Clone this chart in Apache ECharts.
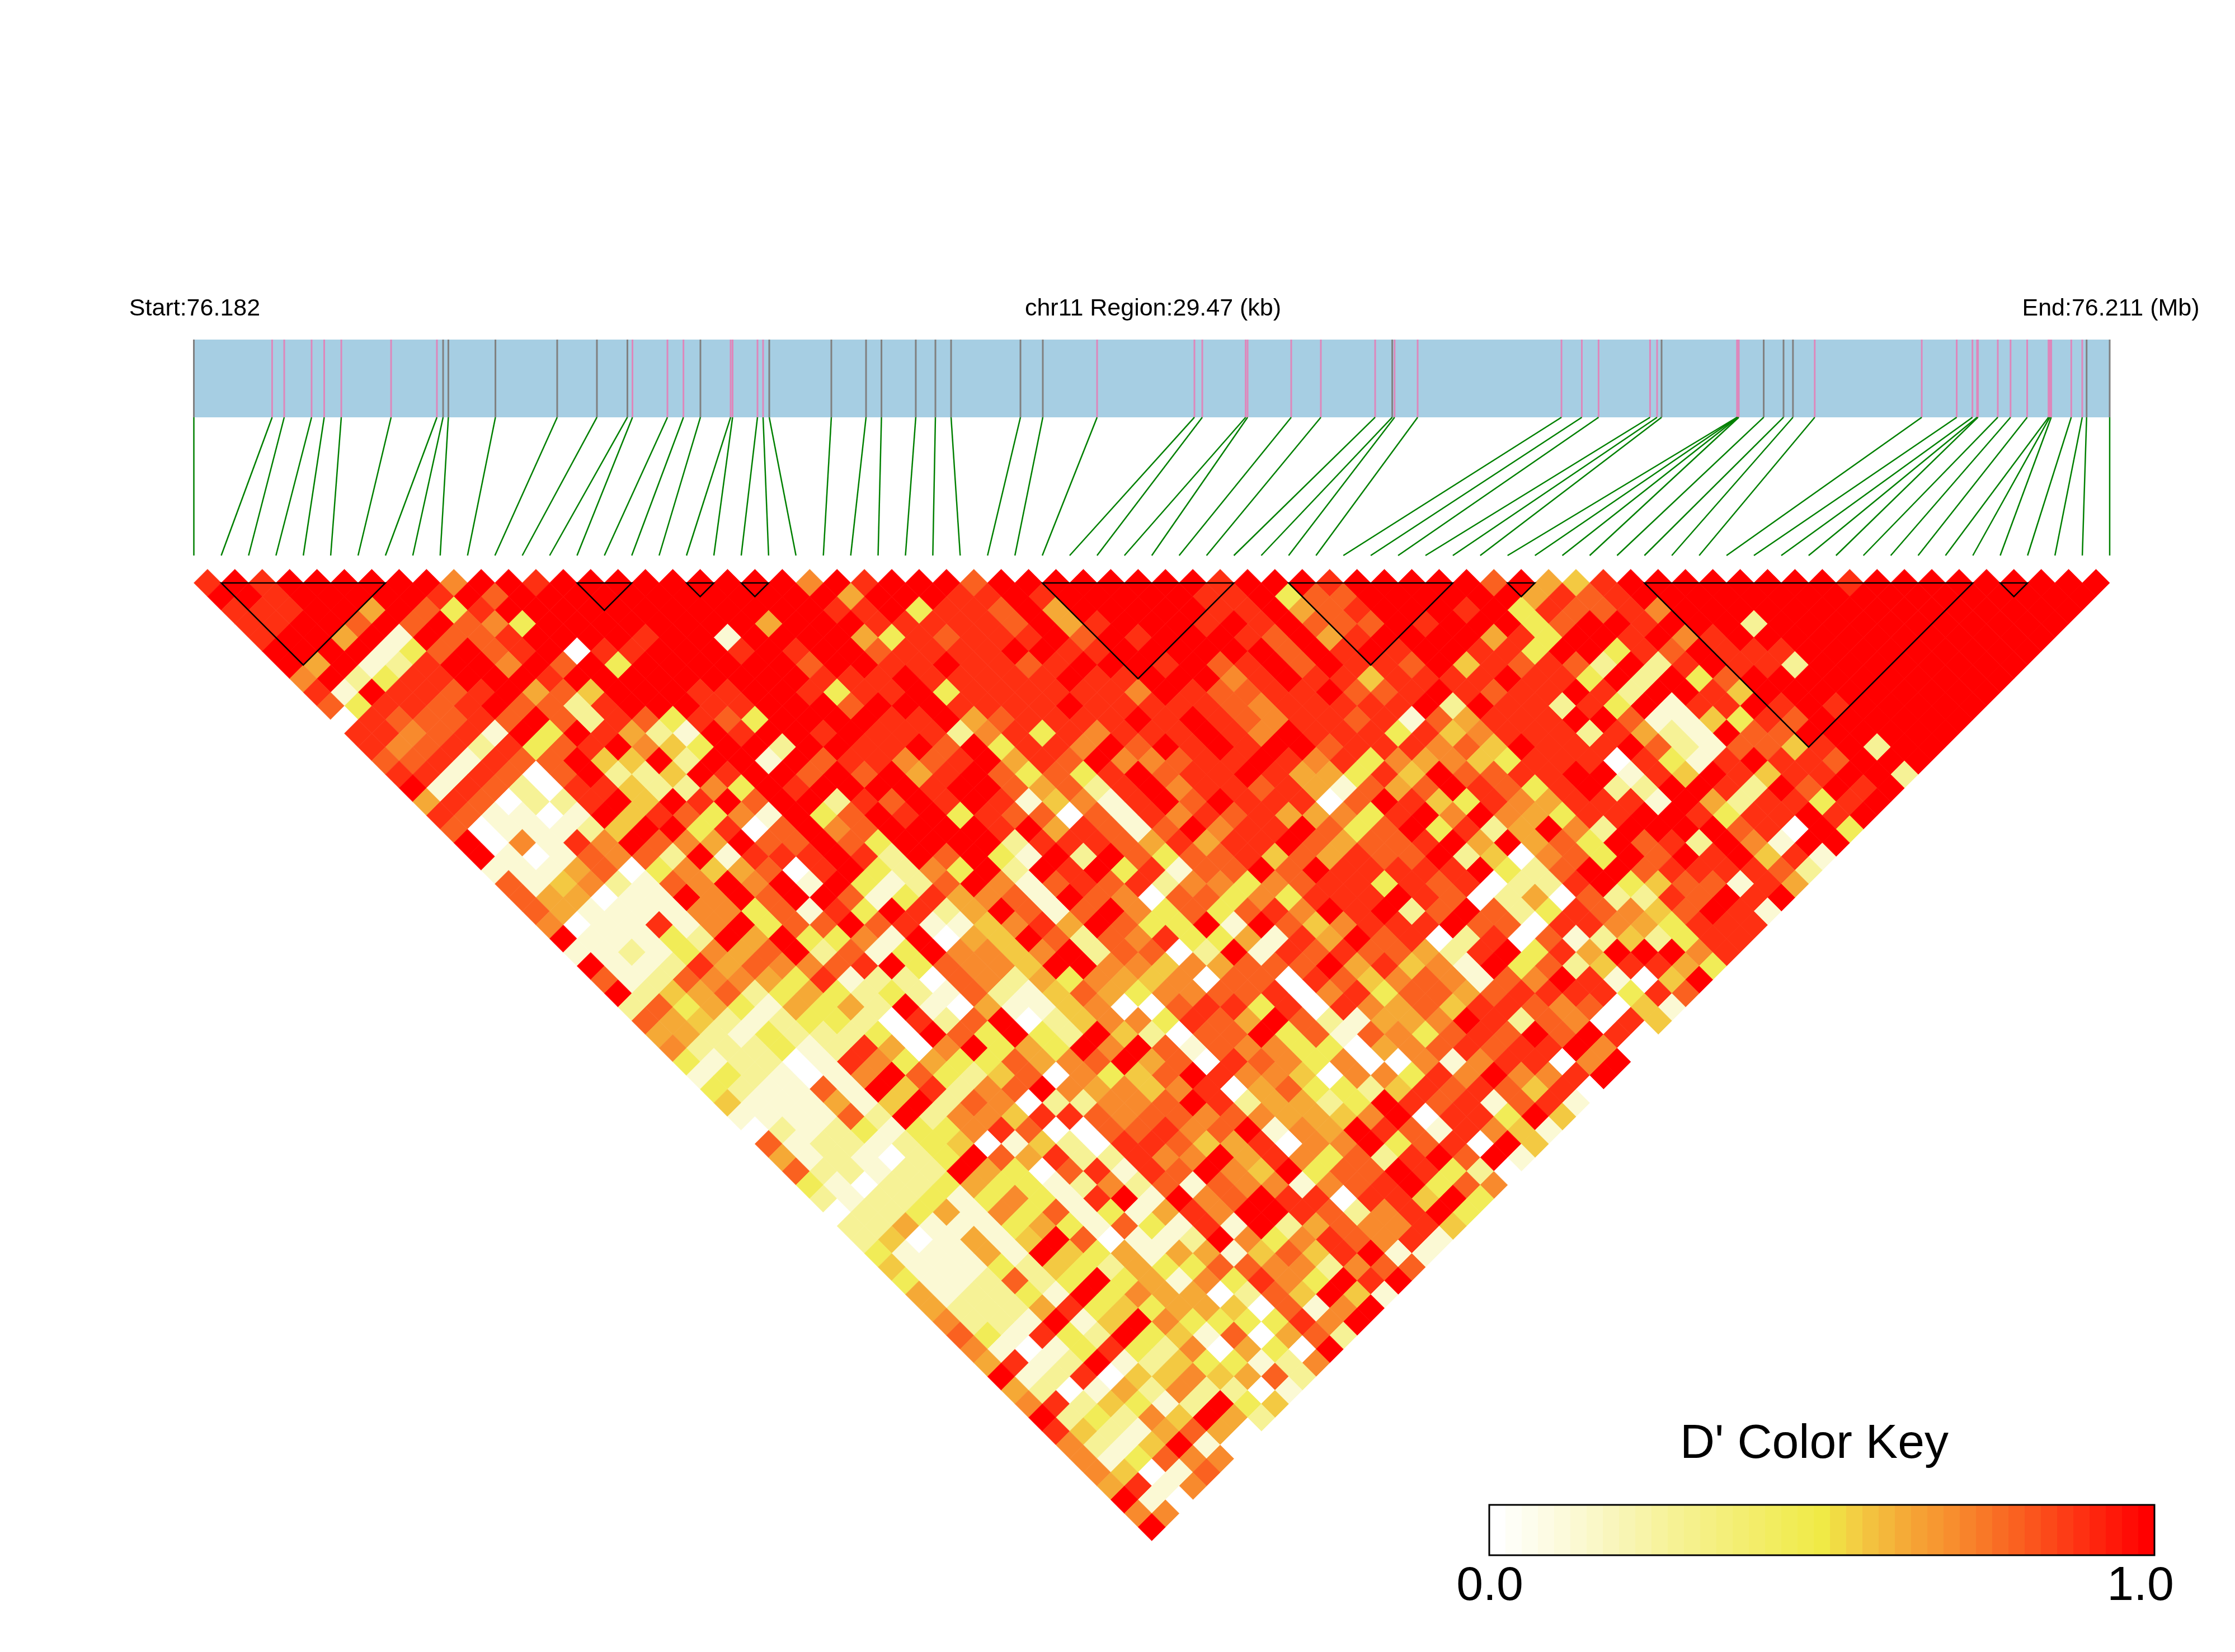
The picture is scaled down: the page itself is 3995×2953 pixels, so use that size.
<!DOCTYPE html>
<html><head><meta charset="utf-8"><title>LD heatmap</title>
<style>html,body{margin:0;padding:0;background:#fff}#c{width:3995px;height:2953px}</style>
<script src="https://cdn.jsdelivr.net/npm/echarts@6/dist/echarts.min.js"></script></head>
<body><div id="c"></div>
<script>
// SNP positions along the 29.47 kb region (kb from start)
const regionKb = 29.47;
const snpKb = [0,1.204,1.39,1.811,2.005,2.268,3.034,3.739,3.834,3.915,4.639,5.589,6.2,6.669,6.747,7.285,7.531,7.792,8.257,8.287,8.67,8.756,8.851,9.806,10.34,10.577,11.105,11.407,11.648,12.715,13.059,13.894,15.391,15.512,16.179,16.209,16.88,17.336,18.171,18.434,18.47,18.825,21.037,21.35,21.608,22.4,22.508,22.577,23.737,23.744,23.753,23.765,24.148,24.453,24.598,24.933,26.579,27.117,27.359,27.43,27.444,27.749,27.945,28.201,28.529,28.549,28.571,28.879,29.048,29.115,29.47];
// g = grey tick, p = pink tick, one per SNP
const snpKinds = "g"+"ppppppp"+"gggggg"+"ppp"+"g"+"pppp"+"ggggggggg"+"pppppppp"+"g"+"ppppppp"+"g"+"pppp"+"ggg"+"pppppppppppppp"+"gg";
// D' classes used when reading the picture, index = digit in ldRows
const dLevels = [0.0,0.12,0.27,0.45,0.56,0.63,0.71,0.80,0.90,1.0];
// colour key stops
const keyStopValues = [0,0.12,0.27,0.5,0.56,0.63,0.71,0.80,0.90,1];
const keyStopColors = ["#ffffff","#fbf9d4","#f6f296","#f0ea46","#f3c942","#f5a936","#f88a2d","#fa6120","#fe3012","#ff0000"];
// LD blocks as [first SNP, last SNP]
const ldBlocks = [[1,7],[14,16],[18,19],[20,21],[31,38],[40,46],[48,49],[53,65],[66,67]];
// One string per SNP distance (1..70); each digit is a D' class for pair (i, i+distance)
const ldRows = [
"898999999699899999 999969899979999999 989998999997954899 9999998999999999",
"99899999897999999 999999599988989999 988937799999958789 9999999999999999",
"88899597389999999 999998893887959999 988957899989387786 999999999999999",
"8899797976399999 999599988888795899 989897779899937998 999299999999999",
"8995919778999989 919999538788897989 998795899995839989 68999999999999",
"999913797890889 998989978888998899 999979898998839938 79888999999999",
"959128996979399 999979988988789998 978979887948787292 8988299999999",
"69238899989999 999998889888889889 996898848888988392 9379999999999",
"81988789574999 889983889388888869 877889778987889829 984999999999",
"7388789772899 988999799988889888 887688888929882839 188989899999",
"0877787972873 873999988957888898 987688781758889971 14387999999",
"886781939852 198998988826838688 898698883846888285 21977999999",
"867828378964 399299889793886979 898997888674988897 2177489299",
"77818779449 299197886789587966 788986836564388808 3189887999",
"88187079224 989979795897373897 889855384977889918 498488992",
"9187208842 263989999899757289 688785175798738922 998297989",
"5870228949 897992879898146189 798880798438658881 95288389",
"871101948 736193798938770718 687855638969653889 98388989",
"701112499 380796799998958717 968897379382596299 9978093",
"90618697 659779739999288875 858897577895957397 8296199",
"91017672 918889829793192973 778475877924067397 989481",
"1115703 645708932639298938 177979888889327997 888872",
"7146217 696919312796178782 663678838780228934 77185",
"755011 969799713856719760 773638889870250722 87989",
"751111 663718398259717963 737869892797238764 7981",
"60118 169377978114685973 391974688897708865 3888",
"91113 295933619054972768 335185978028071242 388",
"112136579271396646927 7029187877528938599968",
"911285766789376649966 465777958461937248853",
"71276653812207625365 460770874676176981049",
"92457235323217214753 66778068377578888387",
"2735315352910511460 07883808657488767041",
"7542123320827902466 3875972155698276084",
"552132223097393294 2077937176378797980",
"622231285069353969 717663305678788960",
"31220186353375679 570876360061688069",
"13210169732470634 79866406638696689",
"3211719482679656 46805733248787480",
"4111514927602266 7982552398781781",
"111172926648876 7767655469088394",
"021231336870077 867916598718641",
"71221234014208 874580669378094",
"51210239758228 66958637289791",
"7221229530781 87964937798320",
"3102235331262 7176616789376",
"212231363189 1967988088493",
"022351637131 586998726893",
"22511135317 318192576684",
"24015149701 12963687681",
"3111519435 15514748911",
"4111324325 3377662677",
"311272393 5163863989",
"512231936550274941",
"52225834355407169",
"6221914963333869",
"731832934170572",
"61013832605309",
"5812912433126",
"912804464572",
"52015262201",
"6824312934",
"923264952",
"84215750",
"6214910",
"613766",
"64017",
"5816",
"910",
"66",
"9"
];
const headerLeft = "Start:76.182", headerMid = "chr11 Region:29.47 (kb)", headerRight = "End:76.211 (Mb)";
const keyTitle = "D' Color Key", keyMinLabel = "0.0", keyMaxLabel = "1.0";
const keySteps = Array.from({length:41},(_,i)=>i/40);

function hex(c){return [1,3,5].map(i=>parseInt(c.substr(i,2),16));}
function colorOf(v){
  for(let k=1;k<keyStopValues.length;k++){
    if(v<=keyStopValues[k]){
      const t=(v-keyStopValues[k-1])/(keyStopValues[k]-keyStopValues[k-1]);
      const a=hex(keyStopColors[k-1]),b=hex(keyStopColors[k]);
      return 'rgb('+a.map((x,j)=>Math.round(x+(b[j]-x)*t)).join(',')+')';
    }
  }
  return keyStopColors[keyStopColors.length-1];
}

const ldData=[];
ldRows.forEach((s,r)=>{
  const d=r+1, t=s.replace(/ /g,'');
  for(let i=0;i<t.length;i++) ldData.push([i,i+d,dLevels[+t[i]]]);
});

const N=snpKb.length;
const chart=echarts.init(document.getElementById('c'),null,{renderer:'canvas',width:3995,height:2953});
const font='"Liberation Sans",Arial,sans-serif';
const txt=(x,y,t,size)=>({type:'text',x:x,y:y,silent:true,style:{text:t,x:0,y:0,font:size+'px '+font,fill:'#000',textAlign:'center',textVerticalAlign:'middle'}});

function hiddenAxis(i,min,max,inv){return {gridIndex:i,type:'value',min:min,max:max,inverse:!!inv,show:false,scale:false,splitLine:{show:false}};}

chart.setOption({
  animation:false,
  backgroundColor:'#ffffff',
  grid:[
    {left:346.5,top:1017.5,width:3424.5,height:1736.7,containLabel:false},
    {left:346.5,top:607,width:3424.5,height:386},
    {left:2662,top:2690,width:1189,height:90}
  ],
  xAxis:[hiddenAxis(0,0,2*(N-1)),hiddenAxis(1,0,regionKb),hiddenAxis(2,0,1)],
  yAxis:[hiddenAxis(0,0,N,true),hiddenAxis(1,0,1),hiddenAxis(2,0,1)],
  graphic:{elements:[
    txt(348,552,headerLeft,43),
    txt(2061,552,headerMid,43),
    txt(3773,552,headerRight,43),
    txt(3243,2582,keyTitle,86),
    txt(2663,2836,keyMinLabel,86),
    txt(3826,2836,keyMaxLabel,86)
  ]},
  series:[
    {type:'custom',name:'LD',coordinateSystem:'cartesian2d',xAxisIndex:0,yAxisIndex:0,silent:true,progressive:0,
     data:ldData,encode:{x:0,y:1},
     renderItem:(p,api)=>{
       const i=api.value(0),j=api.value(1),v=api.value(2),u=i+j,d=j-i;
       const c=colorOf(v);
       return {type:'polygon',shape:{points:[api.coord([u-1,d]),api.coord([u,d-1]),api.coord([u+1,d]),api.coord([u,d+1])]},
         style:{fill:c,stroke:c,lineWidth:0.7}};
     }},
    {type:'custom',name:'blocks',coordinateSystem:'cartesian2d',xAxisIndex:0,yAxisIndex:0,silent:true,z:5,
     data:ldBlocks,encode:{x:0,y:1},
     renderItem:(p,api)=>{
       const a=api.value(0),b=api.value(1);
       return {type:'polygon',shape:{points:[api.coord([2*a,1]),api.coord([2*b,1]),api.coord([a+b,1+b-a])]},
         style:{fill:'none',stroke:'#000',lineWidth:2.5}};
     }},
    {type:'custom',name:'region',coordinateSystem:'cartesian2d',xAxisIndex:1,yAxisIndex:1,silent:true,
     data:[[0,regionKb]],encode:{x:[0,1]},
     renderItem:(p,api)=>{
       const a=api.coord([api.value(0),1]),b=api.coord([api.value(1),0.64]);
       return {type:'rect',shape:{x:a[0],y:a[1],width:b[0]-a[0],height:b[1]-a[1]},style:{fill:'#a6cee3'}};
     }},
    {type:'custom',name:'snpTicks',coordinateSystem:'cartesian2d',xAxisIndex:1,yAxisIndex:1,silent:true,z:3,
     data:snpKb.map((k,i)=>[k,snpKinds[i]==='p'?1:0]),encode:{x:0},
     renderItem:(p,api)=>{
       const k=api.value(0),a=api.coord([k,1]),b=api.coord([k,0.64]);
       return {type:'line',shape:{x1:a[0],y1:a[1],x2:b[0],y2:b[1]},
         style:{stroke:api.value(1)?'#de87bb':'#808080',lineWidth:3}};
     }},
    {type:'custom',name:'connectors',coordinateSystem:'cartesian2d',xAxisIndex:1,yAxisIndex:1,silent:true,z:3,
     data:snpKb.map((k,i)=>[k,i/(N-1)*regionKb]),encode:{x:0},
     renderItem:(p,api)=>{
       const a=api.coord([api.value(0),0.64]),b=api.coord([api.value(1),0]);
       return {type:'line',shape:{x1:a[0],y1:a[1],x2:b[0],y2:b[1]},style:{stroke:'#008000',lineWidth:2.5}};
     }},
    {type:'custom',name:'key',coordinateSystem:'cartesian2d',xAxisIndex:2,yAxisIndex:2,silent:true,
     data:keySteps.map(v=>[v]),encode:{x:0},
     renderItem:(p,api)=>{
       const v=api.value(0),w=1/41,t=v*(1-w);
       const a=api.coord([t,1]),b=api.coord([t+w,0]);
       return {type:'rect',shape:{x:a[0],y:a[1],width:b[0]-a[0]+0.5,height:b[1]-a[1]},style:{fill:colorOf(v)}};
     }},
    {type:'custom',name:'keyFrame',coordinateSystem:'cartesian2d',xAxisIndex:2,yAxisIndex:2,silent:true,z:4,
     data:[[0,1]],encode:{x:[0,1]},
     renderItem:(p,api)=>{
       const a=api.coord([0,1]),b=api.coord([1,0]);
       return {type:'rect',shape:{x:a[0],y:a[1],width:b[0]-a[0],height:b[1]-a[1]},style:{fill:'none',stroke:'#000',lineWidth:3}};
     }}
  ]
});
</script></body></html>
